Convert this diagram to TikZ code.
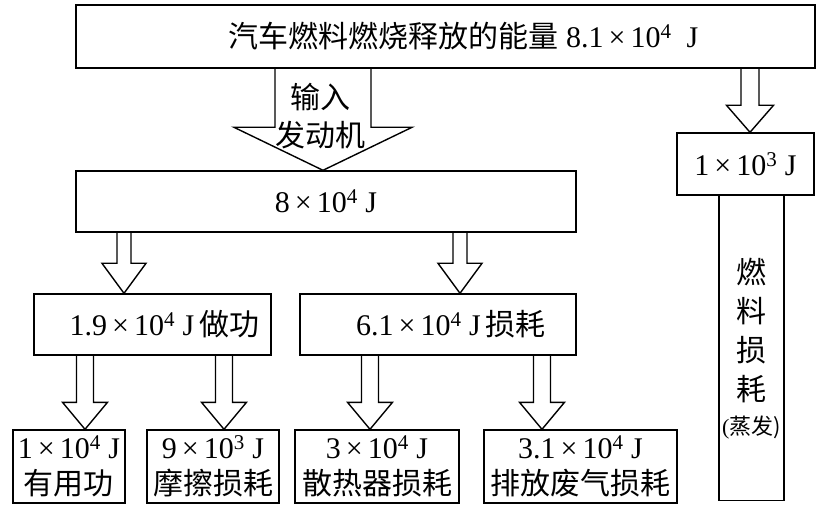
\documentclass[tikz,border=0pt]{standalone}
\usepackage{fontspec}
\setmainfont{Liberation Serif}
\newfontfamily\cjk{Noto Sans CJK SC}
\usetikzlibrary{calc}

\tikzset{
  box/.style={draw, line width=1.4pt, inner sep=0pt, align=center,
    font=\fontsize{30}{36}\selectfont},
  fat/.style n args={3}{draw, line width=1.4pt, line join=miter,
    to path={let \p1=(\tikztostart), \p2=(\tikztotarget) in
      (\x1-#1pt,\y1) -- (\x1-#1pt,\y2+#3pt) -- (\x1-#2pt,\y2+#3pt) -- (\x2,\y2)
      -- (\x1+#2pt,\y2+#3pt) -- (\x1+#1pt,\y2+#3pt) -- (\x1+#1pt,\y1)}},
}

\begin{document}
\begin{tikzpicture}[x=1pt,y=-1pt]
    \useasboundingbox (0,0) rectangle (817,513);
    % boxes
    \node[box, minimum width=739, minimum height=63] (fuel) at (445.5,36.5)
        {\hspace*{36pt}{\cjk 汽车燃料燃烧释放的能量} 8.1\,×\,10\textsuperscript{4}~~J};
    \node[box, minimum width=500, minimum height=61] (eng) at (326,201.5)
        {8\,×\,10\textsuperscript{4}~J};
    \node[box, minimum width=137, minimum height=62] (vap) at (745.5,164)
        {1\,×\,10\textsuperscript{3}~J};
    \node[box, minimum width=65, minimum height=305, anchor=north] (lost) at (751.5,195)
        {{\cjk 燃}\\[3pt]{\cjk 料}\\[3pt]{\cjk 损}\\[3pt]{\cjk 耗}\\[-2pt]{\fontsize{22}{24}\selectfont(\cjk 蒸发)}};
    \node[box, minimum width=237, minimum height=61] (work) at (152.5,324.5)
        {\hspace*{24pt}1.9\,×\,10\textsuperscript{4}~J\,{\cjk 做功}};
    \node[box, minimum width=276, minimum height=61] (waste) at (438,324.5)
        {\hspace*{26pt}6.1\,×\,10\textsuperscript{4}~J\,{\cjk 损耗}};
    \node[box, minimum width=112, minimum height=73] (useful) at (69,466.5)
        {1\,×\,10\textsuperscript{4}~J\\{\cjk 有用功}};
    \node[box, minimum width=132, minimum height=73] (fric) at (213,466.5)
        {9\,×\,10\textsuperscript{3}~J\\{\cjk 摩擦损耗}};
    \node[box, minimum width=164, minimum height=73] (heat) at (377,466.5)
        {3\,×\,10\textsuperscript{4}~J\\{\cjk 散热器损耗}};
    \node[box, minimum width=193, minimum height=73] (exh) at (580.5,466.5)
        {3.1\,×\,10\textsuperscript{4}~J\\{\cjk 排放废气损耗}};
    % arrow columns
    \coordinate (k0) at (323,0);
    \coordinate (k1) at (750,0);
    \coordinate (k2) at (124,0);
    \coordinate (k3) at (460,0);
    \coordinate (k4) at (85,0);
    \coordinate (k5) at (224,0);
    \coordinate (k6) at (370,0);
    \coordinate (k7) at (542,0);
    % arrows
    \draw[fat={48}{89}{43}] (fuel.south -| k0) to (eng.north -| k0);
    \node[align=center, font=\fontsize{30}{38}\selectfont\cjk] (input) at (320,116) {输入\\发动机};
    \draw[fat={9}{23.5}{27}] (fuel.south -| k1) to (vap.north -| k1);
    \draw[fat={7}{22}{30}] (eng.south -| k2) to (work.north -| k2);
    \draw[fat={7}{22}{30}] (eng.south -| k3) to (waste.north -| k3);
    \draw[fat={8.5}{22.5}{27}] (work.south -| k4) to (useful.north -| k4);
    \draw[fat={8.5}{22.5}{27}] (work.south -| k5) to (fric.north -| k5);
    \draw[fat={8.5}{22.5}{27}] (waste.south -| k6) to (heat.north -| k6);
    \draw[fat={8.5}{22.5}{27}] (waste.south -| k7) to (exh.north -| k7);
\end{tikzpicture}
\end{document}
